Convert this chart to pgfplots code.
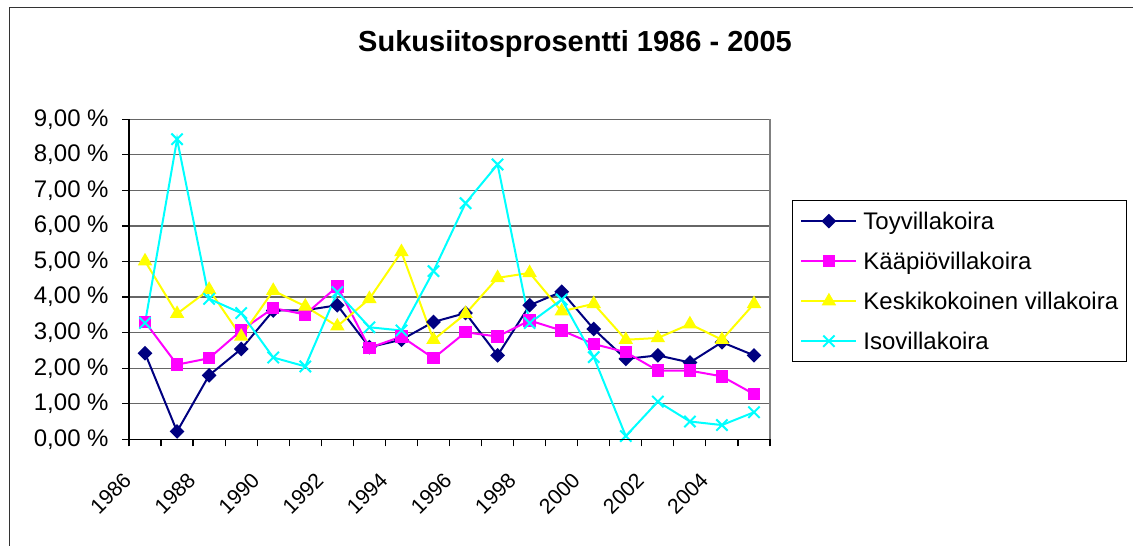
\documentclass[border=0pt]{standalone}
\usepackage{fontspec}
\setmainfont{Liberation Sans}
\usepackage{pgfplots}
\usepackage{pgfplotstable}
\pgfplotsset{compat=1.18}
\definecolor{toy}{HTML}{000080}
\definecolor{kaap}{HTML}{FF00FF}
\definecolor{keski}{HTML}{FFFF00}
\definecolor{iso}{HTML}{00FFFF}
\pgfplotstableread{
year toy kaap keski iso
1986 2.42 3.30 5.01 3.27
1987 0.22 2.10 3.53 8.44
1988 1.80 2.28 4.21 3.95
1989 2.54 3.06 2.89 3.55
1990 3.62 3.69 4.18 2.30
1991 3.63 3.51 3.74 2.05
1992 3.77 4.30 3.18 4.14
1993 2.59 2.57 3.95 3.15
1994 2.80 2.89 5.27 3.06
1995 3.30 2.28 2.80 4.73
1996 3.55 3.01 3.53 6.64
1997 2.36 2.89 4.54 7.73
1998 3.77 3.34 4.68 3.27
1999 4.15 3.06 3.60 3.93
2000 3.10 2.68 3.81 2.31
2001 2.26 2.45 2.80 0.09
2002 2.36 1.93 2.85 1.06
2003 2.16 1.93 3.24 0.50
2004 2.73 1.77 2.80 0.40
2005 2.36 1.27 3.81 0.76
}\data
\begin{document}
\begin{tikzpicture}[x=0.5bp,y=0.5bp]
\useasboundingbox (0,0) rectangle (1133,546);
\draw[line width=0.7bp, black!80] (9.5,0) -- (9.5,538.5) -- (1133,538.5);
\node[font=\bfseries\fontsize{14.5bp}{17bp}\selectfont, anchor=base] at (575,494.3) {Sukusiitosprosentti 1986 - 2005};
\begin{axis}[
  at={(64.5bp,53.35bp)}, anchor=south west,
  scale only axis, width=320.5bp, height=160bp,
  xmin=1985.5, xmax=2005.5, ymin=0, ymax=9,
  axis line style={draw=none},
  tick pos=left, tick align=outside,
  major tick length=3.5bp, minor tick length=3.5bp,
  tick style={black, line width=0.6bp},
  xtick={1986,1988,...,2004},
  xticklabels={1986,1988,1990,1992,1994,1996,1998,2000,2002,2004},
  minor xtick={1985.5,1986.5,...,2005.5},
  major x tick style={draw=none},
  xticklabel style={xshift=-8.7bp, yshift=-15bp, rotate=45, anchor=east, inner sep=0pt, font=\fontsize{10.6bp}{12bp}\selectfont},
  ytick={0,...,9},
  yticklabels={{0,00 \%},{1,00 \%},{2,00 \%},{3,00 \%},{4,00 \%},{5,00 \%},{6,00 \%},{7,00 \%},{8,00 \%},{9,00 \%}},
  yticklabel style={font=\fontsize{12bp}{14bp}\selectfont, inner sep=0pt, xshift=-6.5bp},
  ymajorgrids, grid style={black!60, line width=0.6bp},
  legend cell align=left,
  legend style={at={(rel axis cs:1.034,0.748)}, anchor=north west, draw=black, line width=0.6bp,
    inner xsep=4bp, inner ysep=0.3bp, row sep=0pt,
    font=\fontsize{12bp}{14bp}\selectfont,
    nodes={inner sep=0pt, text height=14.3bp, text depth=5.7bp},
    /tikz/every odd column/.append style={column sep=3bp}},
  legend image code/.code={\draw[mark repeat=2,mark phase=2,#1] plot coordinates {(0bp,0bp) (13.75bp,0bp) (27.5bp,0bp)};},
  after end axis/.code={
    \draw[black!50, line width=0.7bp] (rel axis cs:1,0) -- (rel axis cs:1,1);
    \draw[black, line width=0.7bp] (rel axis cs:0,1) -- (rel axis cs:0,0) -- (rel axis cs:1,0);
  },
]
\addplot[toy, line width=1bp, mark=square*, mark size=2.1bp, mark options={rotate=45, solid, fill=toy}] table[x=year,y=toy]{\data};
\addlegendentry{Toyvillakoira}
\addplot[kaap, line width=1bp, mark=square*, mark size=2.6bp, mark options={solid, fill=kaap}] table[x=year,y=kaap]{\data};
\addlegendentry{Kääpiövillakoira}
\addplot[keski, line width=1bp, mark=triangle*, mark size=3.2bp, mark options={solid, fill=keski}] table[x=year,y=keski]{\data};
\addlegendentry{Keskikokoinen villakoira}
\addplot[iso, line width=1bp, mark=x, mark size=4bp, mark options={solid}] table[x=year,y=iso]{\data};
\addlegendentry{Isovillakoira}
\end{axis}
\end{tikzpicture}
\end{document}
